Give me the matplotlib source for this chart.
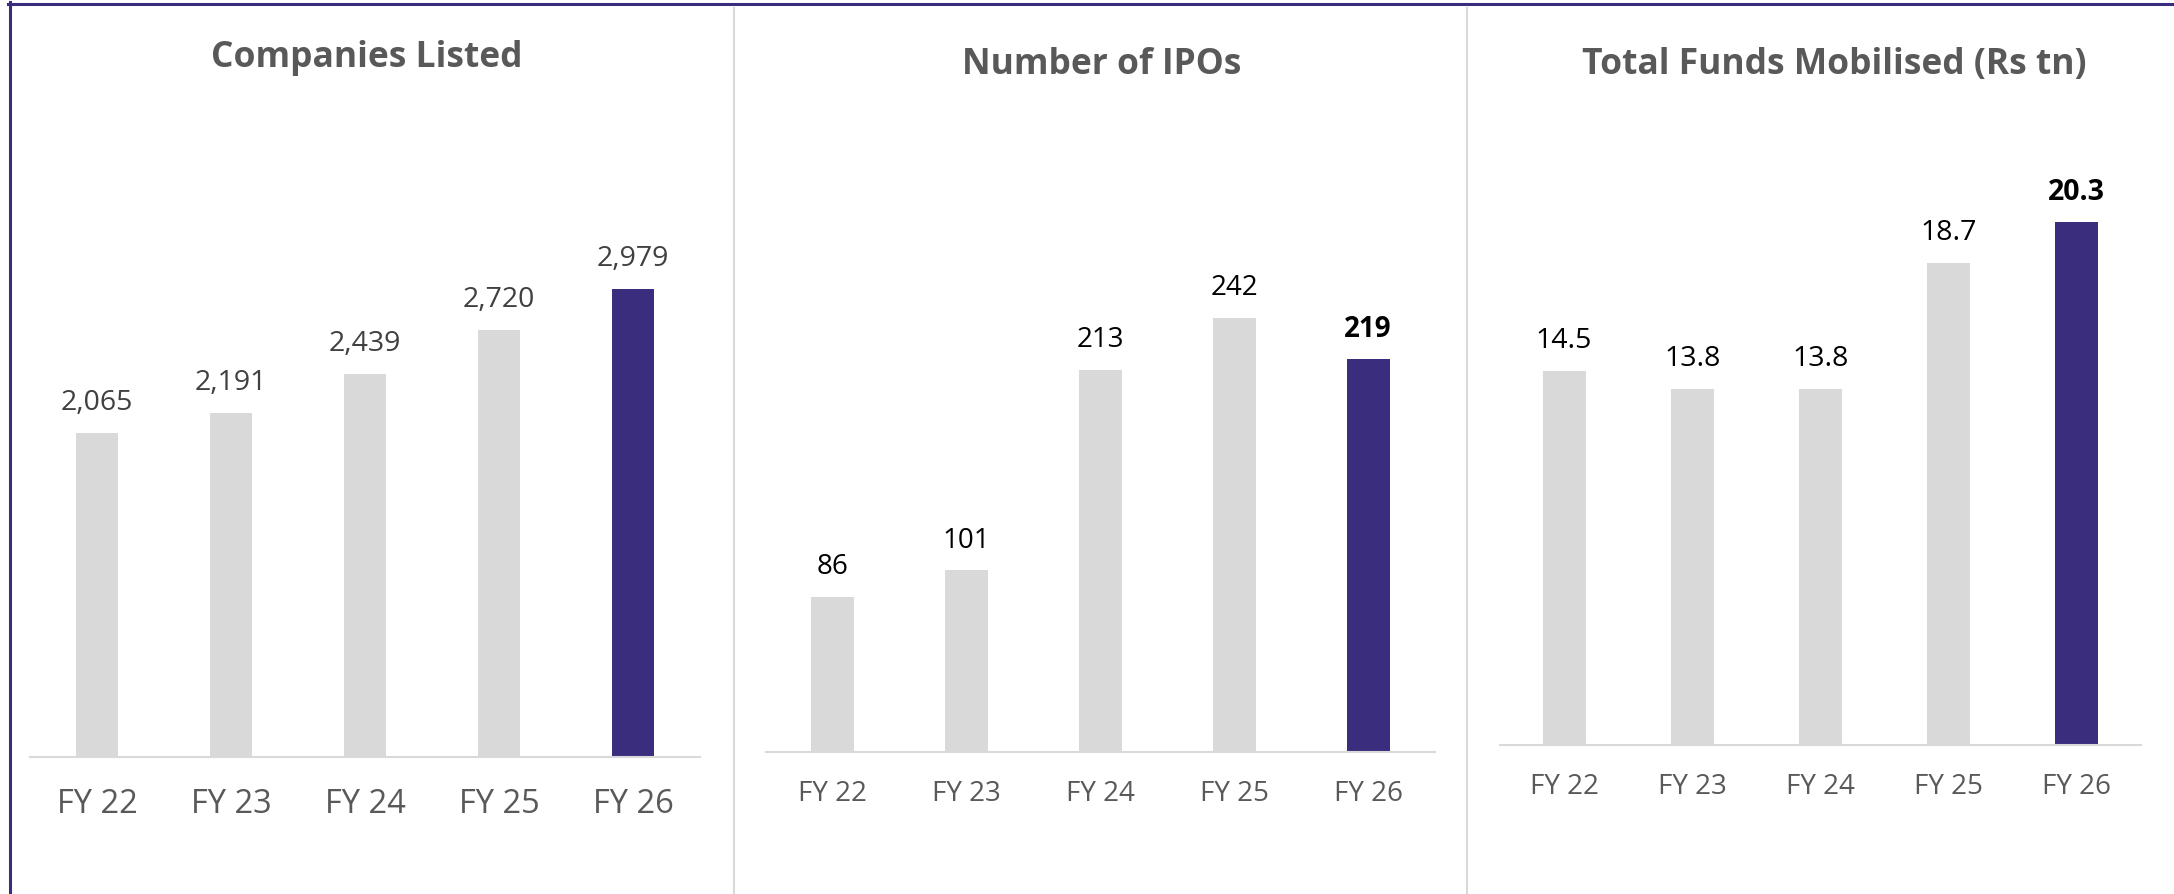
import matplotlib
matplotlib.use("Agg")
import matplotlib.pyplot as plt
from matplotlib.lines import Line2D

plt.rcParams['font.family'] = ['Open Sans', 'DejaVu Sans']

# data
years = ["FY 22", "FY 23", "FY 24", "FY 25", "FY 26"]
companies_listed = [2065, 2191, 2439, 2720, 2979]
num_ipos = [86, 101, 213, 242, 219]
funds_mobilised = [14.5, 13.8, 13.8, 18.7, 20.3]

titles = ["Companies Listed", "Number of IPOs", "Total Funds Mobilised (Rs tn)"]

GREY = "#D9D9D9"
PURPLE = "#3A2D7D"
TITLE_COL = "#595959"
TICK_COL = "#595959"

W, H = 2174, 894
fig = plt.figure(figsize=(W / 100, H / 100), dpi=100)


def px_box(x0, x1, base, top):
    # pixel box -> figure fraction [left, bottom, width, height]
    return [x0 / W, 1 - base / H, (x1 - x0) / W, (base - top) / H]


panels = [
    dict(vals=companies_listed, fmt="{:,.0f}", box=px_box(30, 700, 757, 150), ytop=3864,
         width=0.32, lab_col="#404040", lab_size=20.5, tick_size=23.5, last_bold=False,
         title_x=367, title_y=58, pad=22),
    dict(vals=num_ipos, fmt="{:.0f}", box=px_box(766, 1435, 751.5, 150), ytop=335.5,
         width=0.32, lab_col="black", lab_size=20, tick_size=20, last_bold=True,
         title_x=1102, title_y=65, pad=20.5),
    dict(vals=funds_mobilised, fmt="{:.1f}", box=px_box(1500, 2141, 744.5, 150), ytop=23.1,
         width=0.335, lab_col="black", lab_size=20.5, tick_size=20, last_bold=True,
         title_x=1834, title_y=65, pad=20.5),
]

for p, title in zip(panels, titles):
    ax = fig.add_axes(p["box"])
    x = range(len(years))
    colors = [GREY] * (len(years) - 1) + [PURPLE]
    bars = ax.bar(x, p["vals"], width=p["width"], color=colors, zorder=2)
    ax.set_xlim(-0.5, len(years) - 0.5)
    ax.set_ylim(0, p["ytop"])

    for i, (b, v) in enumerate(zip(bars, p["vals"])):
        bold = p["last_bold"] and i == len(years) - 1
        ax.annotate(p["fmt"].format(v), (b.get_x() + b.get_width() / 2, v),
                    xytext=(0, 21.5), textcoords="offset points",
                    ha="center", va="center", fontsize=p["lab_size"],
                    color=p["lab_col"], fontweight="bold" if bold else "normal")

    ax.set_xticks(list(x))
    ax.set_xticklabels(years, fontsize=p["tick_size"], color=TICK_COL)
    ax.tick_params(axis="x", length=0, pad=p["pad"])
    ax.set_yticks([])
    for s in ["top", "right", "left"]:
        ax.spines[s].set_visible(False)
    ax.spines["bottom"].set_color(GREY)
    ax.spines["bottom"].set_linewidth(1.5)
    ax.patch.set_alpha(0)

    fig.text(p["title_x"] / W, 1 - p["title_y"] / H, title, ha="center", va="center",
             fontsize=25.5, fontweight="bold", color=TITLE_COL)

# frame and dividers
fig.add_artist(Line2D([8 / W, 1], [1 - 3.5 / H, 1 - 3.5 / H], color=PURPLE, lw=2.2))
fig.add_artist(Line2D([9.5 / W, 9.5 / W], [0, 1 - 2 / H], color=PURPLE, lw=2.2))
for xd in [734, 1467]:
    fig.add_artist(Line2D([xd / W, xd / W], [0, 1 - 8 / H], color=GREY, lw=1.5))

fig.savefig("out.png", dpi=100)
